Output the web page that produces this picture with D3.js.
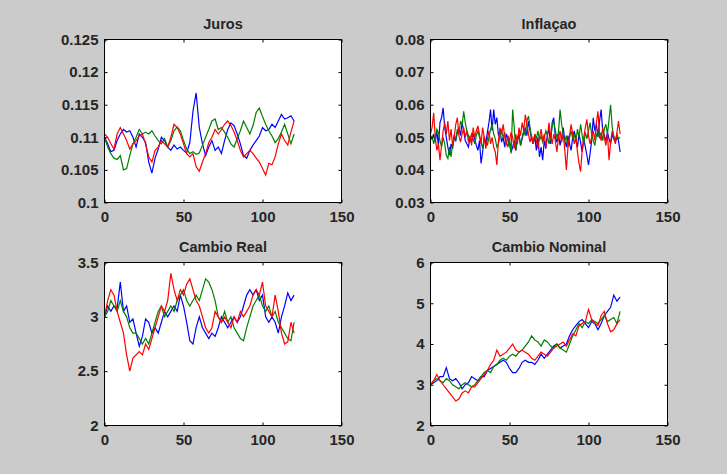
<!DOCTYPE html>
<html>
<head>
<meta charset="utf-8">
<script src="https://cdn.jsdelivr.net/npm/d3@7"></script>
<style>
  body { margin: 0; background: #cbcbcb; }
  svg { display: block; }
  .tick text { font-family: "Liberation Sans", Arial, sans-serif; font-weight: bold; font-size: 15px; fill: #262626; }
  .title { font-family: "Liberation Sans", Arial, sans-serif; font-weight: bold; font-size: 14.5px; fill: #262626; }
</style>
</head>
<body>
<div id="chart"></div>
<script>
// time axis: most series read every 2 periods, inflation every period
var tStep2 = d3.range(0, 121, 2);
var tStep1 = d3.range(0, 121, 1);
var xTicks = [0, 50, 100, 150];

// Juros
var jurosBlue = [0.1100,0.1090,0.1078,0.1080,0.1095,0.1105,0.1112,0.1108,0.1110,0.1100,0.1085,0.1105,0.1100,0.1092,0.1062,0.1045,0.1068,0.1082,0.1100,0.1095,0.1085,0.1080,0.1088,0.1082,0.1085,0.1080,0.1076,0.1092,0.1140,0.1168,0.1115,0.1090,0.1072,0.1085,0.1095,0.1080,0.1085,0.1075,0.1095,0.1112,0.1122,0.1118,0.1105,0.1090,0.1072,0.1068,0.1080,0.1088,0.1095,0.1102,0.1115,0.1110,0.1112,0.1120,0.1115,0.1125,0.1135,0.1128,0.1130,0.1133,0.1125];
var jurosGreen = [0.1100,0.1085,0.1075,0.1068,0.1066,0.1072,0.1050,0.1052,0.1072,0.1090,0.1100,0.1112,0.1105,0.1108,0.1105,0.1110,0.1102,0.1095,0.1090,0.1098,0.1085,0.1095,0.1110,0.1116,0.1110,0.1095,0.1082,0.1075,0.1078,0.1074,0.1076,0.1088,0.1100,0.1112,0.1125,0.1128,0.1112,0.1115,0.1108,0.1100,0.1090,0.1085,0.1098,0.1110,0.1125,0.1115,0.1105,0.1118,0.1138,0.1145,0.1132,0.1120,0.1110,0.1102,0.1092,0.1098,0.1108,0.1120,0.1105,0.1090,0.1105];
var jurosRed = [0.1105,0.1100,0.1090,0.1082,0.1105,0.1115,0.1105,0.1095,0.1082,0.1090,0.1095,0.1102,0.1105,0.1090,0.1070,0.1062,0.1080,0.1085,0.1095,0.1090,0.1085,0.1100,0.1120,0.1115,0.1105,0.1090,0.1075,0.1070,0.1075,0.1055,0.1048,0.1062,0.1075,0.1092,0.1100,0.1112,0.1105,0.1112,0.1120,0.1125,0.1118,0.1108,0.1095,0.1080,0.1070,0.1075,0.1080,0.1075,0.1068,0.1062,0.1052,0.1042,0.1060,0.1058,0.1070,0.1090,0.1105,0.1095,0.1088,0.1108,0.1125];
var jurosTicks = [0.1, 0.105, 0.11, 0.115, 0.12, 0.125];

// Inflacao
var inflBlue = [0.0505,0.0495,0.0510,0.0485,0.0520,0.0475,0.0545,0.0560,0.0590,0.0530,
  0.0500,0.0470,0.0445,0.0480,0.0465,0.0500,0.0490,0.0515,0.0530,0.0505,
  0.0545,0.0520,0.0490,0.0480,0.0470,0.0500,0.0485,0.0510,0.0495,0.0475,
  0.0460,0.0490,0.0420,0.0455,0.0500,0.0480,0.0515,0.0545,0.0585,0.0520,
  0.0585,0.0540,0.0560,0.0505,0.0520,0.0485,0.0500,0.0470,0.0510,0.0495,
  0.0480,0.0455,0.0470,0.0490,0.0460,0.0500,0.0510,0.0475,0.0495,0.0515,
  0.0530,0.0505,0.0550,0.0520,0.0495,0.0480,0.0505,0.0460,0.0500,0.0440,
  0.0470,0.0430,0.0490,0.0465,0.0510,0.0525,0.0480,0.0545,0.0560,0.0500,
  0.0485,0.0510,0.0475,0.0500,0.0530,0.0490,0.0470,0.0505,0.0480,0.0460,
  0.0500,0.0520,0.0495,0.0470,0.0510,0.0485,0.0455,0.0495,0.0470,0.0445,
  0.0415,0.0450,0.0490,0.0560,0.0520,0.0540,0.0500,0.0550,0.0585,0.0520,
  0.0505,0.0490,0.0515,0.0495,0.0480,0.0510,0.0495,0.0485,0.0500,0.0490,
  0.0455];
var inflGreen = [0.0490,0.0505,0.0480,0.0500,0.0525,0.0515,0.0490,0.0470,0.0500,0.0480,
  0.0445,0.0435,0.0470,0.0440,0.0480,0.0505,0.0495,0.0525,0.0510,0.0550,
  0.0535,0.0580,0.0545,0.0520,0.0505,0.0490,0.0510,0.0495,0.0480,0.0505,
  0.0520,0.0500,0.0485,0.0465,0.0500,0.0490,0.0475,0.0500,0.0525,0.0540,
  0.0510,0.0495,0.0470,0.0480,0.0505,0.0520,0.0500,0.0515,0.0485,0.0470,
  0.0495,0.0450,0.0585,0.0530,0.0460,0.0490,0.0505,0.0475,0.0500,0.0520,
  0.0505,0.0550,0.0565,0.0530,0.0500,0.0480,0.0510,0.0495,0.0520,0.0490,
  0.0505,0.0485,0.0500,0.0520,0.0505,0.0480,0.0495,0.0535,0.0550,0.0520,
  0.0500,0.0515,0.0585,0.0540,0.0510,0.0490,0.0505,0.0470,0.0500,0.0520,
  0.0495,0.0510,0.0485,0.0525,0.0500,0.0540,0.0505,0.0480,0.0515,0.0495,
  0.0520,0.0545,0.0510,0.0490,0.0475,0.0505,0.0520,0.0500,0.0515,0.0490,
  0.0525,0.0540,0.0510,0.0555,0.0600,0.0530,0.0505,0.0490,0.0510,0.0495,
  0.0500];
var inflRed = [0.0510,0.0530,0.0575,0.0500,0.0460,0.0480,0.0430,0.0475,0.0520,0.0545,
  0.0510,0.0550,0.0490,0.0525,0.0475,0.0500,0.0540,0.0560,0.0505,0.0485,
  0.0510,0.0530,0.0500,0.0520,0.0485,0.0505,0.0475,0.0530,0.0500,0.0520,
  0.0535,0.0510,0.0480,0.0530,0.0500,0.0465,0.0495,0.0520,0.0480,0.0500,
  0.0470,0.0455,0.0415,0.0490,0.0530,0.0510,0.0540,0.0500,0.0475,0.0505,
  0.0490,0.0515,0.0500,0.0465,0.0510,0.0480,0.0530,0.0505,0.0545,0.0520,
  0.0570,0.0540,0.0510,0.0485,0.0505,0.0480,0.0510,0.0490,0.0465,0.0500,
  0.0525,0.0490,0.0510,0.0470,0.0500,0.0545,0.0505,0.0480,0.0510,0.0490,
  0.0455,0.0500,0.0520,0.0485,0.0510,0.0460,0.0400,0.0470,0.0505,0.0540,
  0.0510,0.0480,0.0500,0.0455,0.0420,0.0395,0.0460,0.0500,0.0530,0.0555,
  0.0505,0.0480,0.0500,0.0520,0.0490,0.0545,0.0580,0.0510,0.0490,0.0530,
  0.0500,0.0475,0.0510,0.0430,0.0485,0.0520,0.0500,0.0480,0.0515,0.0550,
  0.0510];
var inflTicks = [0.03, 0.04, 0.05, 0.06, 0.07, 0.08];

// Cambio Real
var realBlue = [3.00,3.10,3.05,3.10,3.08,3.32,3.05,3.10,2.95,2.98,2.85,2.73,2.82,2.98,2.95,2.85,2.90,2.85,2.95,3.05,3.00,3.05,3.10,3.05,3.20,3.10,2.95,2.78,2.75,2.90,3.00,2.90,2.85,2.80,2.85,2.82,2.90,3.00,2.95,2.90,2.95,3.00,2.95,3.00,3.10,3.20,3.25,3.20,3.25,3.15,3.20,3.00,2.95,3.00,2.95,2.85,3.00,3.10,3.22,3.15,3.20];
var realGreen = [3.00,3.05,3.15,3.10,3.05,3.15,3.05,3.00,2.90,2.85,2.85,2.80,2.75,2.80,2.75,2.85,2.95,3.05,3.10,3.00,3.05,3.10,3.05,3.15,3.20,3.25,3.15,3.10,3.15,3.20,3.15,3.25,3.35,3.32,3.25,3.15,3.00,2.95,3.05,2.95,3.00,2.90,2.85,2.80,2.78,2.90,3.00,3.10,3.15,3.20,3.10,3.05,3.10,3.00,3.05,2.95,2.90,2.85,2.80,2.78,2.95];
var realRed = [3.00,3.15,3.25,3.20,3.05,2.95,2.85,2.65,2.50,2.62,2.65,2.68,2.65,2.75,2.70,2.80,2.90,3.00,3.10,3.05,3.15,3.40,3.25,3.15,3.25,3.20,3.30,3.35,3.25,3.15,3.10,3.00,2.90,2.85,2.90,3.05,3.00,2.95,3.00,2.95,2.90,3.00,2.95,3.05,3.00,3.05,3.10,3.20,3.25,3.20,3.32,3.10,3.05,3.00,3.20,3.05,2.85,2.75,2.77,2.95,2.85];
var realTicks = [2, 2.5, 3, 3.5];

// Cambio Nominal
var nomBlue = [3.00,3.05,3.10,3.20,3.20,3.42,3.15,3.10,3.15,3.05,2.90,3.00,3.05,3.20,3.15,3.10,3.20,3.20,3.35,3.40,3.45,3.50,3.55,3.60,3.55,3.40,3.30,3.30,3.40,3.55,3.60,3.55,3.55,3.50,3.60,3.75,3.65,3.75,3.85,3.95,4.00,3.90,3.95,4.00,4.20,4.35,4.45,4.55,4.60,4.50,4.40,4.55,4.50,4.35,4.50,4.70,4.80,4.90,5.20,5.05,5.15];
var nomGreen = [3.00,3.10,3.15,3.10,3.05,3.15,3.10,3.00,2.95,2.90,3.00,3.05,3.00,2.95,3.00,3.10,3.20,3.30,3.35,3.30,3.45,3.50,3.60,3.65,3.60,3.70,3.75,3.70,3.80,3.85,3.95,4.05,4.20,4.10,4.05,3.95,4.10,4.05,3.95,3.90,4.00,3.90,3.85,3.80,4.00,4.20,4.35,4.50,4.40,4.55,4.50,4.60,4.55,4.50,4.60,4.70,4.55,4.60,4.65,4.50,4.80];
var nomRed = [3.00,3.10,3.25,3.10,3.00,2.90,2.80,2.70,2.60,2.65,2.80,2.85,2.80,2.95,2.95,3.05,3.15,3.25,3.35,3.50,3.60,3.85,3.70,3.75,3.80,3.90,4.00,3.85,3.80,3.85,3.80,3.75,3.65,3.60,3.70,3.80,3.75,3.70,3.80,3.90,3.95,4.00,4.05,3.95,4.10,4.25,4.20,4.45,4.50,4.55,4.85,4.60,4.50,4.45,4.70,4.80,4.50,4.30,4.35,4.50,4.60];
var nomTicks = [2, 3, 4, 5, 6];

var colors = ["#0000ff", "#008000", "#ff0000"];

var panels = [
  {title: "Juros", left: 104, top: 39, t: tStep2, series: [jurosBlue, jurosGreen, jurosRed], ticks: jurosTicks, fmt: function(d) { return String(+d.toFixed(3)); }},
  {title: "Inflaçao", left: 430, top: 39, t: tStep1, series: [inflBlue, inflGreen, inflRed], ticks: inflTicks, fmt: function(d) { return d.toFixed(2); }},
  {title: "Cambio Real", left: 104, top: 262, t: tStep2, series: [realBlue, realGreen, realRed], ticks: realTicks, fmt: function(d) { return String(d); }},
  {title: "Cambio Nominal", left: 430, top: 262, t: tStep2, series: [nomBlue, nomGreen, nomRed], ticks: nomTicks, fmt: function(d) { return String(d); }}
];

var W = 727, H = 474, pw = 237, ph = 163;

var svg = d3.select("#chart").append("svg")
    .attr("width", W)
    .attr("height", H);

svg.append("rect").attr("width", W).attr("height", H).attr("fill", "#cbcbcb");

panels.forEach(function(p) {
  var g = svg.append("g")
      .attr("transform", "translate(" + (p.left + 0.5) + "," + (p.top + 0.5) + ")");

  var x = d3.scaleLinear().domain([0, 150]).range([0, pw]);
  var y = d3.scaleLinear().domain(d3.extent(p.ticks)).range([ph, 0]);

  g.append("rect").attr("width", pw).attr("height", ph).attr("fill", "#fff");

  var line = d3.line()
      .x(function(d, i) { return x(p.t[i]); })
      .y(function(d) { return y(d); });

  p.series.forEach(function(s, k) {
    g.append("path")
        .datum(s)
        .attr("fill", "none")
        .attr("stroke", colors[k])
        .attr("stroke-width", 1.2)
        .attr("d", line);
  });

  // axes, ticks pointing inward like matlab
  var xb = g.append("g").attr("transform", "translate(0," + ph + ")")
      .call(d3.axisBottom(x).tickValues(xTicks).tickSizeInner(-3).tickSizeOuter(0).tickPadding(9));
  var xt = g.append("g")
      .call(d3.axisTop(x).tickValues(xTicks).tickSizeInner(-3).tickSizeOuter(0).tickFormat(""));
  var yl = g.append("g")
      .call(d3.axisLeft(y).tickValues(p.ticks).tickSizeInner(-3).tickSizeOuter(0).tickPadding(6).tickFormat(p.fmt));
  var yr = g.append("g").attr("transform", "translate(" + pw + ",0)")
      .call(d3.axisRight(y).tickValues(p.ticks).tickSizeInner(-3).tickSizeOuter(0).tickFormat(""));

  [xb, xt, yl, yr].forEach(function(a) {
    a.select(".domain").remove();
    a.selectAll(".tick line").attr("stroke", "#000");
  });

  g.append("rect")
      .attr("width", pw).attr("height", ph)
      .attr("fill", "none").attr("stroke", "#000").attr("stroke-width", 1);

  g.append("text")
      .attr("class", "title")
      .attr("x", pw / 2)
      .attr("y", -11)
      .attr("text-anchor", "middle")
      .text(p.title);
});
</script>
</body>
</html>
